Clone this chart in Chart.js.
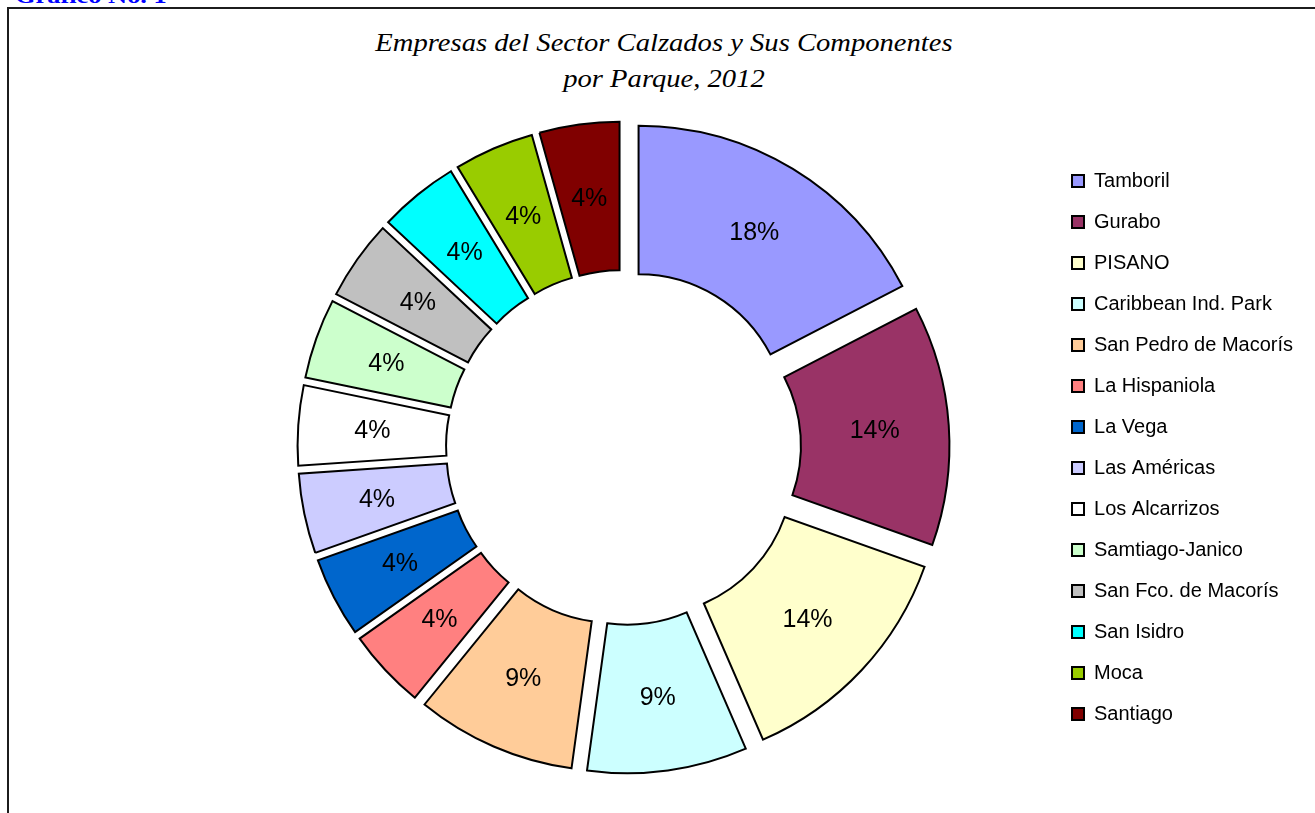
<!DOCTYPE html>
<html lang="es">
<head>
<meta charset="utf-8">
<title>Empresas del Sector Calzados y Sus Componentes por Parque, 2012</title>
<script src="https://cdn.jsdelivr.net/npm/chart.js@4.4.1/dist/chart.umd.min.js"></script>
<style>
  body { margin: 0; background: #fff; width: 1315px; height: 813px; overflow: hidden; position: relative; }
  .caption { position: absolute; left: 15px; top: -15px; font: bold 22px 'Liberation Serif', 'Times New Roman', serif; line-height: 22px; color: #0000ff; transform: scaleX(1.2); transform-origin: 0 0; white-space: nowrap; }
  .frame { position: absolute; left: 7px; top: 7px; width: 1400px; height: 900px; border: 2px solid #1c1c1c; }
  .title { position: absolute; left: 0; top: 25px; width: 1328px; text-align: center; font: italic 26px 'Liberation Serif', 'Times New Roman', serif; line-height: 36px; color: #000; transform: scaleX(1.1); transform-origin: 664px 0; }
  canvas { position: absolute; left: 0; top: 0; }
</style>
</head>
<body>
<div class="caption">Gráfico No. 1</div>
<div class="frame"></div>
<div class="title">Empresas del Sector Calzados y Sus Componentes<br>por Parque, 2012</div>
<canvas id="chart" width="1315" height="813"></canvas>
<script>
// parques y número de empresas (ángulos)
const parques = [
  'Tamboril', 'Gurabo', 'PISANO', 'Caribbean Ind. Park', 'San Pedro de Macorís',
  'La Hispaniola', 'La Vega', 'Las Américas', 'Los Alcarrizos', 'Samtiago-Janico',
  'San Fco. de Macorís', 'San Isidro', 'Moca', 'Santiago'
];
const empresas = [4, 3, 3, 2, 2, 1, 1, 1, 1, 1, 1, 1, 1, 1];
// etiquetas tal como aparecen en el gráfico
const porcentajes = ['18%', '14%', '14%', '9%', '9%', '4%', '4%', '4%', '4%', '4%', '4%', '4%', '4%', '4%'];

const colores = [
  '#9999ff', '#993366', '#ffffcc', '#ccffff', '#ffcc99',
  '#ff8080', '#0066cc', '#ccccff', '#ffffff', '#ccffcc',
  '#c0c0c0', '#00ffff', '#99cc00', '#800000'
];

const EXPLODE = 29; // separación de las porciones

// dibuja cada porción desplazada hacia afuera (gráfico "explotado")
const explodePlugin = {
  id: 'explode',
  beforeDatasetDraw(chart, args) {
    const ctx = chart.ctx;
    args.meta.data.forEach(arc => {
      const mid = (arc.startAngle + arc.endAngle) / 2;
      ctx.save();
      ctx.translate(Math.cos(mid) * EXPLODE, Math.sin(mid) * EXPLODE);
      arc.draw(ctx);
      ctx.restore();
    });
    return false;
  },
  afterDatasetsDraw(chart) {
    const ctx = chart.ctx;
    const meta = chart.getDatasetMeta(0);
    ctx.save();
    ctx.font = '25px "Liberation Sans", Arial, sans-serif';
    ctx.fillStyle = '#000';
    ctx.textAlign = 'center';
    ctx.textBaseline = 'middle';
    meta.data.forEach((arc, i) => {
      const mid = (arc.startAngle + arc.endAngle) / 2;
      const r = (arc.innerRadius + arc.outerRadius) / 2 + EXPLODE;
      ctx.fillText(porcentajes[i], arc.x + Math.cos(mid) * r, arc.y + Math.sin(mid) * r + 1);
    });
    ctx.restore();
  }
};

new Chart(document.getElementById('chart'), {
  type: 'doughnut',
  data: {
    labels: parques,
    datasets: [{
      data: empresas,
      backgroundColor: colores,
      borderColor: '#000',
      borderWidth: 2,
      borderJoinStyle: 'miter',
      hoverOffset: 0
    }]
  },
  options: {
    responsive: false,
    animation: false,
    events: [],
    radius: 297,
    cutout: '50%',
    layout: { padding: { left: 196, right: 12, top: 150, bottom: 68 } },
    plugins: {
      title: { display: false },
      tooltip: { enabled: false },
      legend: {
        position: 'right',
        align: 'start',
        labels: {
          boxWidth: 12,
          boxHeight: 12,
          padding: 21,
          color: '#000',
          font: { family: '"Liberation Sans", Arial, sans-serif', size: 20 }
        }
      }
    }
  },
  plugins: [explodePlugin]
});
</script>
</body>
</html>
